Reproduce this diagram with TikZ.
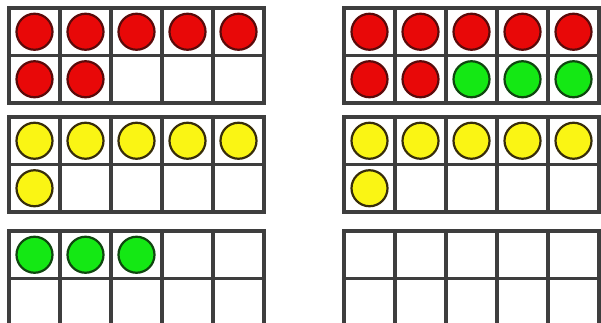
\documentclass[tikz,border=0pt]{standalone}
\definecolor{gridc}{RGB}{62,62,62}
\definecolor{redf}{RGB}{232,8,8}
\definecolor{redd}{RGB}{90,10,10}
\definecolor{yelf}{RGB}{250,245,20}
\definecolor{yeld}{RGB}{55,45,10}
\definecolor{grnf}{RGB}{20,232,20}
\definecolor{grnd}{RGB}{15,70,15}
\newcommand\tenfr[3]{%
  \foreach \c [count=\i from 0] in {#3} {%
    \pgfmathtruncatemacro\cc{mod(\i,5)}%
    \pgfmathtruncatemacro\rr{div(\i,5)}%
    \draw[dot\c] ({#1+25.5+51*\cc},{#2+23.75+47.5*\rr}) circle (18pt);
  }%
  \draw[gridline] (#1,#2) rectangle ++(255,95);
  \draw[gridline] (#1,#2+47.5) -- ++(255,0);
  \foreach \k in {1,...,4} {\draw[gridline] ({#1+51*\k},#2) -- ++(0,95);}%
}
\begin{document}
\begin{tikzpicture}[x=1pt,y=-1pt,
  gridline/.style={draw=gridc,line width=3.4pt},
  dotr/.style={fill=redf,draw=redd,line width=2.2pt},
  doty/.style={fill=yelf,draw=yeld,line width=2.2pt},
  dotg/.style={fill=grnf,draw=grnd,line width=2.2pt},
  dotn/.style={draw=none,fill=none}]
\useasboundingbox (0,0) rectangle (601,323);
\fill[white] (0,0) rectangle (601,323);
\clip (0,0) rectangle (601,323);
\tenfr{9}{8}{r,r,r,r,r,r,r,n,n,n}
\tenfr{344}{8}{r,r,r,r,r,r,r,g,g,g}
\tenfr{9}{117}{y,y,y,y,y,y,n,n,n,n}
\tenfr{344}{117}{y,y,y,y,y,y,n,n,n,n}
\tenfr{9}{231}{g,g,g,n,n,n,n,n,n,n}
\tenfr{344}{231}{n,n,n,n,n,n,n,n,n,n}
\end{tikzpicture}
\end{document}
